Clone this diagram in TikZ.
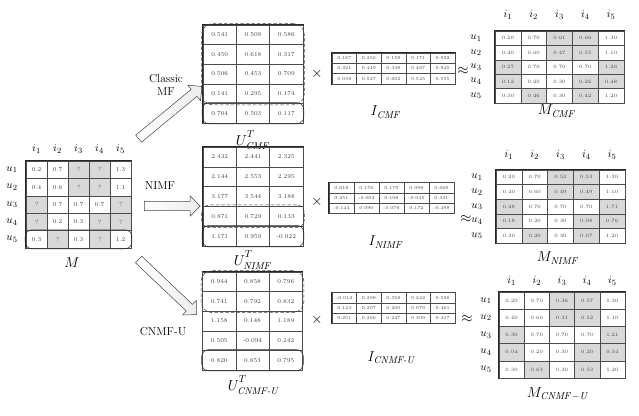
\documentclass[tikz,border=0pt]{standalone}
\usepackage{amsmath}
\usetikzlibrary{matrix,fit,shapes.arrows}
% transposed user-factor label with a raised superscript
\newcommand\utlabel[1]{$U^{\raisebox{2.5pt}{$\scriptstyle T$}}_{#1}$}
\begin{document}
\begin{tikzpicture}[x=1pt,y=-1pt,
  cellline/.style={draw=gray!60!black, line width=0.45pt},
  grid/.style={matrix of nodes, inner sep=0pt, draw=gray!30!black, line width=0.8pt,
    column sep=-0.45pt, row sep=-0.45pt,
    nodes={cellline, inner sep=0pt, text=gray!55!black, anchor=center}},
  sh/.style={fill=gray!30},
  ring/.style={draw=gray!30!black, line width=0.5pt, rounded corners=7pt, inner sep=0.6pt},
  dring/.style={draw=gray!50!black, line width=0.5pt, dash pattern=on 3.5pt off 2pt, rounded corners=11pt, inner sep=1.2pt},
  blockarrow/.style={single arrow, draw=gray!55!black, left color=white, right color=gray!15, line width=0.5pt,
    minimum height=#1, inner sep=4.3pt, single arrow head extend=5.5pt,
    single arrow head indent=0pt},
  hdr/.style={font=\fontsize{11}{12}\selectfont},
  lab/.style={font=\fontsize{14}{16}\selectfont},
  op/.style={font=\fontsize{15}{16}\selectfont},
  meth/.style={font=\fontsize{11.5}{13.5}\selectfont, align=center}
]
\useasboundingbox (0,0) rectangle (639,415);

% ---------------- rating matrix M ----------------
\matrix (M) [grid, nodes={minimum width=21pt, minimum height=17.4pt, font=\fontsize{6}{6}\selectfont}] at (78.5,204.5) {
0.2 & 0.7 & |[sh]| ? & |[sh]| ? & 1.3 \\
0.4 & 0.6 & |[sh]| ? & |[sh]| ? & 1.1 \\
|[sh]| ? & 0.7 & 0.7 & 0.7 & |[sh]| ? \\
|[sh]| ? & 0.2 & 0.3 & |[sh]| ? & |[sh]| ? \\
0.3 & |[sh]| ? & 0.3 & |[sh]| ? & 1.2 \\
};
\foreach \j in {1,...,5} \node[hdr] (Mc\j) at (M-1-\j |- 0,149) {$i_{\j}$};
\foreach \i in {1,...,5} \node[hdr] (Mr\i) at (12,0 |- M-\i-1) {$u_{\i}$};
\node[ring, fit=(M-5-1)(M-5-5)] (Mring) {};
\node[lab] (Mlab) at (72,263) {$M$};

% ---------------- factorisation arrows ----------------
\node[blockarrow=82pt, rotate=39.5] (a1) at (168.5,114) {};
\node[blockarrow=56pt] (a2) at (170,206) {};
\node[blockarrow=80pt, rotate=-43.5] (a3) at (166,285.5) {};
\node[meth] (t1) at (166,85) {Classic\\MF};
\node[meth] (t2) at (160,186) {NIMF};
\node[meth] (t3) at (163,332) {CNMF-U};

% ---------------- user factors ----------------
\matrix (U1) [grid, nodes={minimum width=33.3pt, minimum height=19.6pt, font=\fontsize{6}{6}\selectfont}] at (253,74) {
0.541 & 0.509 & 0.586 \\
0.450 & 0.618 & 0.317 \\
0.506 & 0.453 & 0.709 \\
0.141 & 0.295 & 0.174 \\
0.704 & 0.503 & 0.117 \\
};
\node[dring, fit=(U1-1-1)(U1-4-3)] (U1d) {};
\node[ring, fit=(U1-5-1)(U1-5-3)] (U1r) {};
\node[lab] (U1lab) at (253,140) {\utlabel{\mathit{CMF}}};

\matrix (U2) [grid, nodes={minimum width=33.3pt, minimum height=19.8pt, font=\fontsize{6}{6}\selectfont}] at (253,196.5) {
2.432 & 2.441 & 2.325 \\
2.144 & 2.553 & 2.295 \\
3.177 & 3.544 & 3.188 \\
0.871 & 0.729 & 0.133 \\
1.171 & 0.959 & -0.022 \\
};
\node[dring, rounded corners=8pt, fit=(U2-4-1)(U2-4-3)] (U2d) {};
\node[ring, fit=(U2-5-1)(U2-5-3)] (U2r) {};
\node[lab] (U2lab) at (253,260) {\utlabel{\mathit{NIMF}}};

\matrix (U3) [grid, nodes={minimum width=33.3pt, minimum height=19.6pt, font=\fontsize{6}{6}\selectfont}] at (252.5,321) {
0.944 & 0.858 & 0.796 \\
0.741 & 0.792 & 0.832 \\
1.158 & 0.148 & 1.189 \\
0.505 & -0.094 & 0.242 \\
0.820 & 0.853 & 0.795 \\
};
\node[dring, fit=(U3-1-1)(U3-2-3)] (U3d) {};
\node[ring, fit=(U3-5-1)(U3-5-3)] (U3r) {};
\node[lab] (U3lab) at (253,385) {\utlabel{\textit{CNMF-U}}};

% ---------------- item factors ----------------
\matrix (I1) [grid, nodes={minimum width=24.6pt, minimum height=10.4pt, font=\fontsize{4.5}{5}\selectfont}] at (393.5,68.5) {
0.187 & 0.256 & 0.159 & 0.171 & 0.952 \\
0.321 & 0.449 & 0.338 & 0.487 & 0.845 \\
0.038 & 0.527 & 0.602 & 0.545 & 0.555 \\
};
\node[lab] (I1lab) at (386,112) {$I_{\mathit{CMF}}$};

\matrix (I2) [grid, nodes={minimum width=25pt, minimum height=10.2pt, font=\fontsize{4.5}{5}\selectfont}] at (391.5,198) {
0.018 & 0.176 & 0.179 & 0.098 & 0.669 \\
0.251 & -0.002 & 0.108 & -0.045 & 0.331 \\
-0.144 & 0.090 & -0.076 & 0.172 & -0.498 \\
};
\node[lab] (I2lab) at (386,242) {$I_{\mathit{NIMF}}$};

\matrix (I3) [grid, nodes={minimum width=24.6pt, minimum height=10.2pt, font=\fontsize{4.5}{5}\selectfont}] at (393.5,308) {
-0.012 & 0.298 & 0.358 & 0.242 & 0.556 \\
0.123 & 0.207 & 0.200 & 0.079 & 0.461 \\
0.251 & 0.266 & 0.247 & 0.309 & 0.417 \\
};
\node[lab] (I3lab) at (391,358) {$I_{\textit{CNMF-U}}$};

% ---------------- operators ----------------
\node[op] (x1) at (317,74) {$\times$};
\node[op] (x2) at (317,202) {$\times$};
\node[op] (x3) at (317,320) {$\times$};
\node[op] (p1) at (463,71) {$\approx$};
\node[op] (p2) at (466,219) {$\approx$};
\node[op] (p3) at (467,319) {$\approx$};

% ---------------- reconstructed matrices ----------------
\matrix (R1) [grid, nodes={minimum width=25.8pt, minimum height=14.4pt, font=\fontsize{5}{5}\selectfont}] at (559.5,67) {
0.20 & 0.70 & |[sh]| 0.61 & |[sh]| 0.66 & 1.30 \\
0.40 & 0.60 & |[sh]| 0.47 & |[sh]| 0.55 & 1.10 \\
|[sh]| 0.27 & 0.70 & 0.70 & 0.70 & |[sh]| 1.26 \\
|[sh]| 0.12 & 0.20 & 0.30 & |[sh]| 0.26 & |[sh]| 0.48 \\
0.30 & |[sh]| 0.46 & 0.30 & |[sh]| 0.42 & 1.20 \\
};
\foreach \j in {1,...,5} \node[hdr] (R1c\j) at (R1-1-\j |- 0,15) {$i_{\j}$};
\foreach \i in {1,...,5} \node[hdr] (R1r\i) at (476,0 |- R1-\i-1) {$u_{\i}$};
\node[lab] (R1lab) at (557,111) {$M_{\mathit{CMF}}$};

\matrix (R2) [grid, nodes={minimum width=25.8pt, minimum height=14.6pt, font=\fontsize{5}{5}\selectfont}] at (560.5,206.5) {
0.20 & 0.70 & |[sh]| 0.52 & |[sh]| 0.53 & 1.30 \\
0.40 & 0.60 & |[sh]| 0.49 & |[sh]| 0.49 & 1.10 \\
|[sh]| 0.48 & 0.70 & 0.70 & 0.70 & |[sh]| 1.71 \\
|[sh]| 0.18 & 0.20 & 0.30 & |[sh]| 0.08 & |[sh]| 0.76 \\
0.30 & |[sh]| 0.20 & 0.30 & |[sh]| 0.07 & 1.20 \\
};
\foreach \j in {1,...,5} \node[hdr] (R2c\j) at (R2-1-\j |- 0,155) {$i_{\j}$};
\foreach \i in {1,...,5} \node[hdr] (R2r\i) at (477,0 |- R2-\i-1) {$u_{\i}$};
\node[lab] (R2lab) at (558,258) {$M_{\mathit{NIMF}}$};

\matrix (R3) [grid, nodes={minimum width=25.2pt, minimum height=17.2pt, font=\fontsize{5}{5}\selectfont}] at (562,335) {
0.20 & 0.70 & |[sh]| 0.36 & |[sh]| 0.57 & 1.30 \\
0.40 & 0.60 & |[sh]| 0.31 & |[sh]| 0.52 & 1.10 \\
|[sh]| 0.30 & 0.70 & 0.70 & 0.70 & |[sh]| 1.21 \\
|[sh]| 0.04 & 0.20 & 0.30 & |[sh]| 0.20 & |[sh]| 0.34 \\
0.30 & |[sh]| 0.63 & 0.30 & |[sh]| 0.53 & 1.20 \\
};
\foreach \j in {1,...,5} \node[hdr] (R3c\j) at (R3-1-\j |- 0,281) {$i_{\j}$};
\foreach \i in {1,...,5} \node[hdr] (R3r\i) at (486,0 |- R3-\i-1) {$u_{\i}$};
\node[lab] (R3lab) at (558,394) {$M_{\mathit{CNMF}-\mathit{U}}$};
\end{tikzpicture}
\end{document}
